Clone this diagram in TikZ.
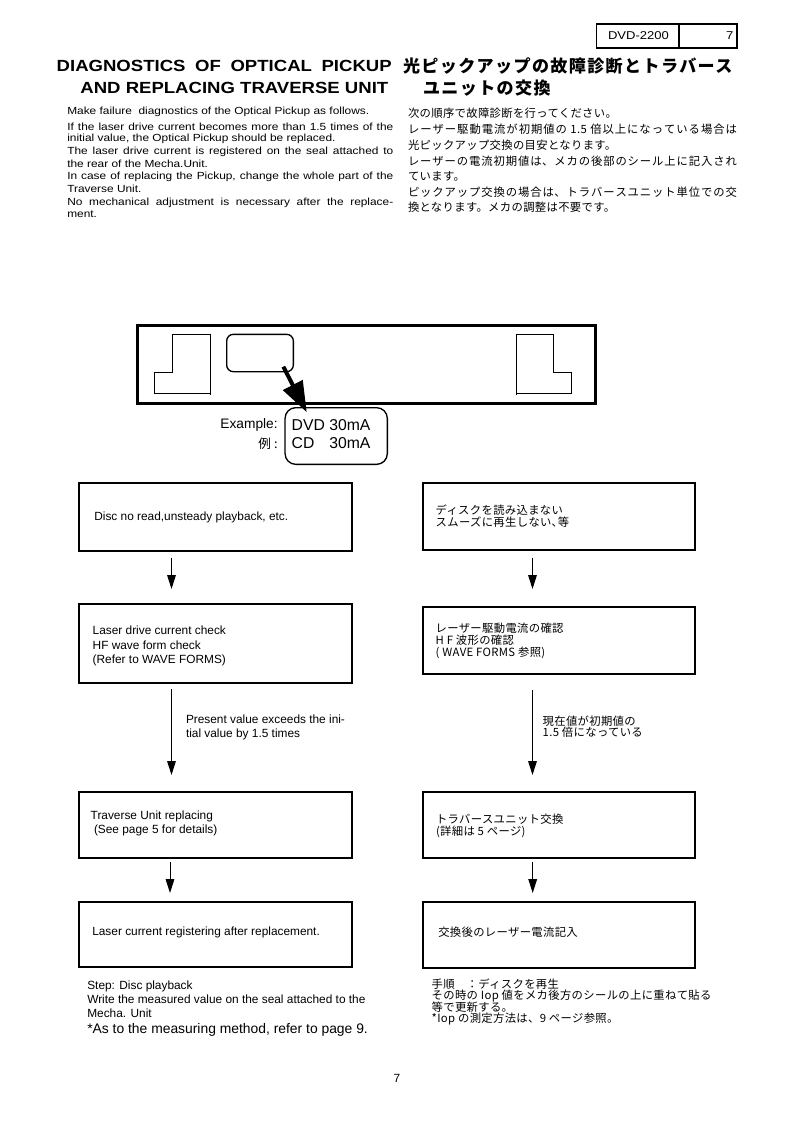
\documentclass[tikz,border=0pt]{standalone}
\usepackage{fontspec}
\setmainfont{Liberation Sans}
\newfontfamily\swf[FakeStretch=1.15]{Liberation Sans}
\newfontfamily\jpf[LetterSpace=3]{Noto Sans CJK JP}
\newfontfamily\jptf[LetterSpace=8]{Noto Sans CJK JP}
\usetikzlibrary{arrows.meta}
\setlength\parindent{0pt}
\newcommand\ftitle{\swf\bfseries\fontsize{12.1}{14}\selectfont}
\newcommand\fbody{\swf\fontsize{7.75}{9.4}\selectfont}
\newcommand\fhead{\swf\fontsize{8.5}{10}\selectfont}
\newcommand\fflow{\fontsize{8.9}{10.6}\selectfont}
\newcommand\fbig{\fontsize{10.4}{12}\selectfont}
\newcommand\fex{\fontsize{10.3}{12}\selectfont}
\newcommand\fdvd{\fontsize{11.8}{13.8}\selectfont}
\newcommand\frei{\jpf\fontsize{9.5}{11}\selectfont}
\newcommand\fjt{\jptf\bfseries\fontsize{12.8}{14}\selectfont}
\newcommand\fjb{\jpf\fontsize{8.5}{10}\selectfont}
\newcommand\fjn{\jpf\fontsize{8.5}{8.5}\selectfont\lineskiplimit=-10pt\relax}
\newcommand\fjbox{\jpf\fontsize{8.5}{8.7}\selectfont\lineskiplimit=-10pt\relax}
\newcommand\jpj{\XeTeXlinebreaklocale "ja"\XeTeXlinebreakskip=0pt plus 2pt\relax}
\newcommand\J[1]{\parfillskip=0pt\relax #1\par}
\tikzset{
  tx/.style={anchor=west},
  jl/.style={anchor=west, text width=#1, align=justify},
  box/.style={draw, line width=0.8pt, inner sep=0pt},
  flow/.style={line width=0.75pt, -{Triangle[length=10.5pt,width=6.5pt]}},
  sl/.style={line width=0.75pt},
}
\begin{document}
\begin{tikzpicture}[x=0.75pt,y=-0.75pt, every node/.style={inner sep=0pt, outer sep=0pt}]
\fill[white] (0,0) rectangle (793,1122);
\useasboundingbox (0,0) rectangle (793,1122);

% header
\node[box, minimum width=61.7pt, minimum height=18pt] (hd) at (637.85,36) {};
\node[box, minimum width=43.5pt, minimum height=18pt] (pg) at (708,36) {};
\node[font=\fhead] (hdt) at (638.5,36) {DVD-2200};
\node[font=\fhead, anchor=east] (pgt) at (733.3,36) {7};

% titles
\node[jl=251.25pt, font=\ftitle] (t1) at (56.7,66) {\J{DIAGNOSTICS OF OPTICAL PICKUP}};
\node[font=\ftitle, anchor=east] (t2) at (388.3,88) {AND REPLACING TRAVERSE UNIT};
\node[tx, font=\fjt] (j1) at (403,66) {光ピックアップの故障診断とトラバース};
\node[tx, font=\fjt] (j2) at (423,88.5) {ユニットの交換};

% english body
\node[tx, font=\fbody] (b1) at (67.3,112) {Make failure\ \ diagnostics of the Optical Pickup as follows.};
\node[jl=244.5pt, font=\fbody] (b2) at (67.3,127) {\J{If the laser drive current becomes more than 1.5 times of the}};
\node[tx, font=\fbody] (b3) at (67.3,139) {initial value, the Optical Pickup should be replaced.};
\node[jl=244.5pt, font=\fbody] (b4) at (67.3,152) {\J{The laser drive current is registered on the seal attached to}};
\node[tx, font=\fbody] (b5) at (67.3,164) {the rear of the Mecha.Unit.};
\node[jl=244.5pt, font=\fbody] (b6) at (67.3,176.7) {\J{In case of replacing the Pickup, change the whole part of the}};
\node[tx, font=\fbody] (b7) at (67.3,189) {Traverse Unit.};
\node[jl=244.5pt, font=\fbody] (b8) at (67.3,202.7) {\J{No mechanical adjustment is necessary after the replace-}};
\node[tx, font=\fbody] (b9) at (67.3,214) {ment.};

% japanese body
\node[tx, font=\fjb] (c1) at (408,113) {次の順序で故障診断を行ってください。};
\node[jl=246.75pt, font=\fjb] (c2) at (408,129) {\jpj\J{レーザー駆動電流が初期値の 1.5 倍以上になっている場合は}};
\node[tx, font=\fjb] (c3) at (408,145) {光ピックアップ交換の目安となります。};
\node[jl=246.75pt, font=\fjb] (c4) at (408,161) {\jpj\J{レーザーの電流初期値は、メカの後部のシール上に記入され}};
\node[tx, font=\fjb] (c5) at (408,176) {ています。};
\node[jl=246.75pt, font=\fjb] (c6) at (408,192) {\jpj\J{ピックアップ交換の場合は、トラバースユニット単位での交}};
\node[tx, font=\fjb] (c7) at (408,207) {換となります。メカの調整は不要です。};

% mecha unit rear view
\draw[line width=2.25pt] (137.3,325) rectangle (595,403);
\draw[sl] (210,334.3) -- (172.7,334.3) -- (172.7,372.3) -- (154,372.3) -- (154,393.3) -- (210,393.3);
\draw[sl] (210,333.5) -- (210,395);
\draw[sl] (516.7,334.3) -- (553.3,334.3) -- (553.3,372.3) -- (571.7,372.3) -- (571.7,393.3) -- (516.7,393.3);
\draw[sl] (516.7,333.5) -- (516.7,395);
\node[draw, line width=1pt, rounded corners=5pt, minimum width=50pt, minimum height=28pt] (lab) at (260,353) {};
\node[draw, line width=1pt, rounded corners=8pt, minimum width=76.7pt, minimum height=42.5pt] (ex) at (336.2,436) {};
\draw[line width=3pt, -{Triangle[length=23pt,width=16pt]}] ([shift={(-10,-5)}]lab.south east) -- ([shift={(21.7,4.6)}]ex.north west);
\node[tx, font=\fdvd] (dvd) at (291.7,425) {DVD 30mA};
\node[tx, font=\fdvd] (cd) at (291.7,443.3) {\rlap{CD}\phantom{DVD} 30mA};
\node[font=\fex, anchor=east] (exl) at (277.7,425) {Example:};
\node[font=\frei, anchor=east] (rei) at (277.7,443.3) {例 :};

% flow boxes left
\node[box, minimum width=204.75pt, minimum height=51pt] (L1) at (215.5,517) {};
\node[box, minimum width=204.75pt, minimum height=59.25pt] (L2) at (215.5,643.5) {};
\node[box, minimum width=204.75pt, minimum height=49.5pt] (L3) at (215.5,825) {};
\node[box, minimum width=204.75pt, minimum height=48.75pt] (L4) at (215.5,934.5) {};
\node[tx, font=\fflow] (L1t) at (94.3,517) {Disc no read,unsteady playback, etc.};
\node[tx, font=\fflow, align=left] (L2t) at (92.7,646) {Laser drive current check\\HF wave form check\\(Refer to WAVE FORMS)};
\node[tx, font=\fflow, align=left] (L3t) at (90.7,823) {Traverse Unit replacing\\\hspace*{2.5pt}(See page 5 for details)};
\node[tx, font=\fflow] (L4t) at (92.3,932.7) {Laser current registering after replacement.};

% flow boxes right
\node[box, minimum width=204pt, minimum height=50.25pt] (R1) at (559,516.5) {};
\node[box, minimum width=204pt, minimum height=50.25pt] (R2) at (559,640.5) {};
\node[box, minimum width=204pt, minimum height=49.5pt] (R3) at (559,825) {};
\node[box, minimum width=204pt, minimum height=49.5pt] (R4) at (559,935) {};
\node[tx, font=\fjbox, align=left] (R1t) at (435.7,516.2) {ディスクを読み込まない\\スムーズに再生しない､等};
\node[tx, font=\fjbox, align=left] (R2t) at (435.7,640.8) {レーザー駆動電流の確認\\H F 波形の確認\\( WAVE FORMS 参照)};
\node[tx, font=\fjbox, align=left] (R3t) at (436,825.8) {トラバースユニット交換\\(詳細は 5 ページ)};
\node[tx, font=\fjbox] (R4t) at (438.3,932.3) {交換後のレーザー電流記入};

% arrows
\draw[flow] ([shift={(92.5,7)}]L1.south west) -- ([shift={(92.5,-15)}]L2.north west);
\draw[flow] ([shift={(92.5,6)}]L2.south west) -- ([shift={(92.5,-17)}]L3.north west);
\draw[flow] ([shift={(91,4)}]L3.south west) -- ([shift={(91,-9)}]L4.north west);
\draw[flow] ([shift={(109.5,8)}]R1.south west) -- ([shift={(109.5,-18)}]R2.north west);
\draw[flow] ([shift={(109.5,16)}]R2.south west) -- ([shift={(109.5,-17)}]R3.north west);
\draw[flow] ([shift={(109.7,4)}]R3.south west) -- ([shift={(109.7,-9)}]R4.north west);

% condition labels
\node[tx, font=\fflow, align=left] (cL) at (186,727) {Present value exceeds the ini-\\tial value by 1.5 times};
\node[tx, font=\fjbox, align=left] (cR) at (542.7,726.5) {現在値が初期値の\\1.5 倍になっている};

% notes
\node[tx, font=\fflow, align=left] (nL) at (87.3,999) {Step: Disc playback\\Write the measured value on the seal attached to the\\Mecha. Unit};
\node[tx, font=\fbig] (nL2) at (87.3,1030) {*As to the measuring method, refer to page 9.};
\node[tx, font=\fjn, align=left] (nR) at (431.7,1002) {手順　：ディスクを再生\\その時の Iop 値をメカ後方のシールの上に重ねて貼る\\等で更新する。\\*Iop の測定方法は、9 ページ参照。};

% footer
\node[font=\fflow] (ft) at (397,1078) {7};
\end{tikzpicture}
\end{document}
